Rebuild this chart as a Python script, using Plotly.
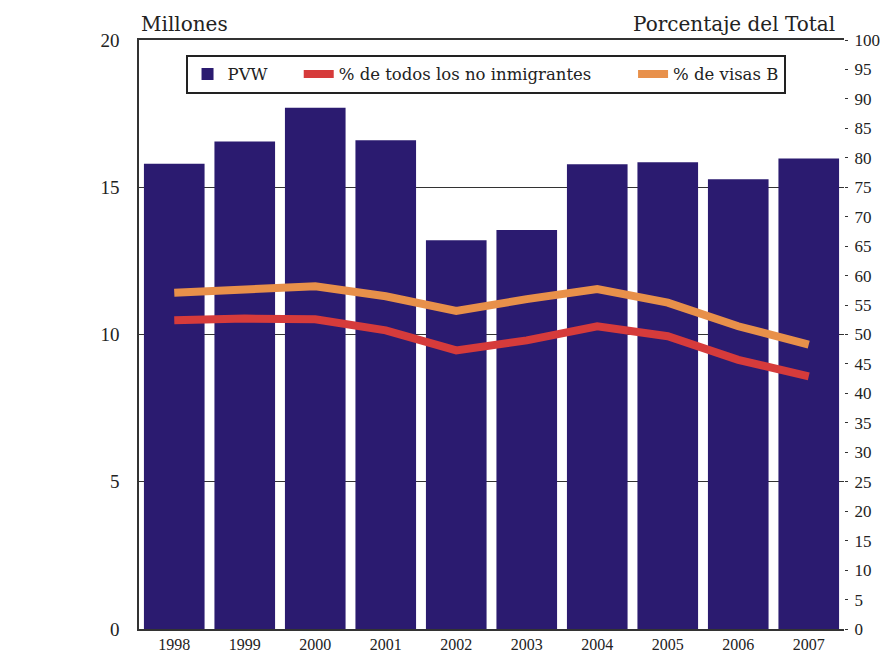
import plotly.graph_objects as go

years = ["1998", "1999", "2000", "2001", "2002", "2003", "2004", "2005", "2006", "2007"]
pvw = [15.8, 16.55, 17.7, 16.6, 13.2, 13.55, 15.78, 15.85, 15.27, 15.98]
pct_no_inmig = [52.4, 52.7, 52.6, 50.7, 47.3, 49.0, 51.4, 49.7, 45.7, 42.9]
pct_visas_b = [57.1, 57.8, 58.2, 56.5, 54.0, 56.0, 57.7, 55.4, 51.4, 48.3]

font_fam = "Liberation Serif"
title_fam = "DejaVu Serif"
nb = "\u00a0"

fig = go.Figure()
fig.add_trace(go.Bar(x=years, y=pvw, name="PVW" + nb * 5, marker=dict(color="#2B1B70", line=dict(width=0)), yaxis="y"))
fig.add_trace(go.Scatter(x=years, y=pct_no_inmig, name="% de todos los no inmigrantes" + nb * 7, mode="lines",
                         line=dict(color="#D63B3B", width=8), yaxis="y2"))
fig.add_trace(go.Scatter(x=years, y=pct_visas_b, name="% de visas B", mode="lines",
                         line=dict(color="#E8904A", width=8), yaxis="y2"))

fig.update_layout(
    width=890, height=661,
    margin=dict(l=131, r=54, t=32, b=40),
    paper_bgcolor="white", plot_bgcolor="white",
    font=dict(family=font_fam, size=16, color="#222"),
    bargap=0.14,
    showlegend=True,
    legend=dict(orientation="h", x=0.066, y=0.975, xanchor="left", yanchor="top",
                bgcolor="white", bordercolor="#222", borderwidth=2,
                font=dict(size=16.5, family=title_fam), itemwidth=30, tracegroupgap=0),
    xaxis=dict(type="category", showline=True, linecolor="#333", linewidth=1.5, mirror=True,
               ticks="", tickfont=dict(size=16), showgrid=False),
    yaxis=dict(range=[0, 20], dtick=5, showgrid=True, gridcolor="#333", gridwidth=1,
               showline=True, linecolor="#333", linewidth=1.5, ticks="inside", ticklen=5,
               tickcolor="#333", tickfont=dict(size=19), zeroline=False, ticklabelstandoff=14),
    yaxis2=dict(range=[0, 100], dtick=5, overlaying="y", side="right", showgrid=False,
                showline=False, ticks="outside", ticklen=3, tickcolor="#333",
                tickfont=dict(size=17), zeroline=False, ticklabelstandoff=3),
    annotations=[
        dict(text="Millones", xref="paper", yref="paper", x=0.0, y=1.0, xanchor="left", yanchor="bottom",
             showarrow=False, font=dict(size=20, family=title_fam), yshift=2),
        dict(text="Porcentaje del Total", xref="paper", yref="paper", x=0.99, y=1.0, xanchor="right",
             yanchor="bottom", showarrow=False, font=dict(size=20, family=title_fam), yshift=2),
    ],
)

fig.write_html("out.html")
